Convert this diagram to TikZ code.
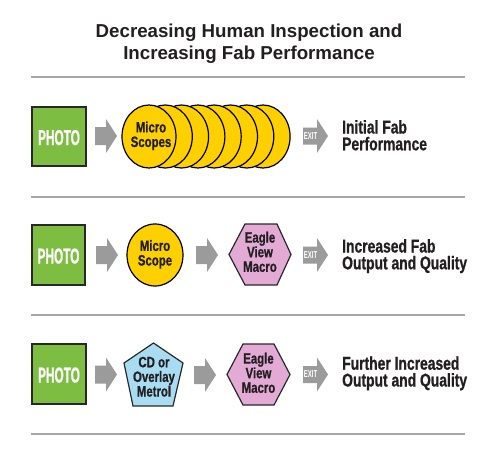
\documentclass[tikz,border=0pt]{standalone}
\usepackage{fontspec}
\newfontfamily\titlefont{Liberation Sans Bold}
\newfontfamily\lblfont[FakeStretch=0.75,FakeBold=0.8]{Liberation Sans Bold}
\newfontfamily\shapefont[FakeStretch=0.76,FakeBold=0.8]{Liberation Sans Bold}
\newfontfamily\photofont[FakeStretch=0.55,FakeBold=0.8]{Liberation Sans Bold}
\newfontfamily\exitfont[FakeStretch=0.6]{Liberation Sans Bold}
\definecolor{photogreen}{RGB}{125,190,66}
\definecolor{scopeyellow}{RGB}{255,208,0}
\definecolor{macropink}{RGB}{228,170,214}
\definecolor{metroblue}{RGB}{168,220,243}
\definecolor{arrowgray}{RGB}{155,155,155}
\definecolor{rulegray}{RGB}{166,166,166}
\definecolor{ink}{RGB}{35,31,32}
\definecolor{edge}{RGB}{40,40,40}
\tikzset{
  titletext/.style={anchor=base,inner sep=0pt,text=ink,align=center,font=\titlefont\fontsize{18.7}{21.9}\selectfont},
  resulttext/.style={anchor=base west,inner sep=0pt,text=ink,align=left,font=\lblfont\fontsize{18.5}{16.8}\selectfont},
  shapetext/.style={anchor=base,inner sep=0pt,text=ink,align=center,font=\shapefont\fontsize{15}{14.6}\selectfont},
  phototext/.style={anchor=base,inner sep=0pt,text=white,font=\photofont\fontsize{21.5}{20}\selectfont},
  exittext/.style={inner sep=0pt,text=white,font=\exitfont\fontsize{10}{10}\selectfont},
  photobox/.style={fill=photogreen,draw=edge,line width=1.3pt},
  scopeshape/.style={fill=scopeyellow,draw=black,line width=1.2pt},
  macroshape/.style={fill=macropink,draw=edge,line width=1.2pt},
  metroshape/.style={fill=metroblue,draw=edge,line width=1.2pt},
  rule/.style={draw=rulegray,line width=1.8pt},
}
\newcommand\blockarrow[3]{%
  \fill[arrowgray] (#1,#2-9) -- (#1+11,#2-9) -- (#1+11,#2-17) -- (#1+22,#2)
    -- (#1+11,#2+17) -- (#1+11,#2+9) -- (#1,#2+9) -- cycle;
  \coordinate (#3) at (#1+11,#2);}
\newcommand\exitarrow[3]{%
  \fill[arrowgray] (#1,#2-8.5) -- (#1+14,#2-8.5) -- (#1+14,#2-17) -- (#1+25,#2)
    -- (#1+14,#2+17) -- (#1+14,#2+8.5) -- (#1,#2+8.5) -- cycle;
  \node[exittext] (#3) at (#1+7.6,#2) {EXIT};}
\newcommand\photo[5]{%
  \fill[photobox] (#1,#2) rectangle (#3,#4);
  \node[phototext] (#5) at ({(#1+#3)/2},{(#2+#4)/2+8.5}) {PHOTO};}
\begin{document}
\begin{tikzpicture}[x=1pt,y=-1pt]
\useasboundingbox (0,0) rectangle (483,463);
\fill[white] (0,0) rectangle (483,463);
% title (anchor = baseline of last line)
\node[titletext] (title) at (249,59.2) {Decreasing Human Inspection and\\Increasing Fab Performance};
% rules
\draw[rule] (31,77) -- (465,77);
\draw[rule] (31,197) -- (465,197);
\draw[rule] (31,315) -- (465,315);
\draw[rule] (31,434) -- (465,434);
% ---------- row 1
\photo{32}{107}{86}{166}{p1}
\blockarrow{95}{136}{a1}
\foreach \k in {7,6,...,0}
  \draw[scopeshape] ({149+16.3*\k},136.5) ellipse [x radius=27pt, y radius=31.5pt];
\node[shapetext] (s1) at (151,147) {Micro\\Scopes};
\exitarrow{303}{136}{e1}
\node[resulttext] (r1) at (342,150.3) {Initial Fab\\Performance};
% ---------- row 2
\photo{32}{225}{85}{285}{p2}
\blockarrow{96}{255}{a2}
\draw[scopeshape] (155,255) ellipse [x radius=28pt, y radius=31pt];
\node[shapetext] (s2) at (155,265.5) {Micro\\Scope};
\blockarrow{196}{255}{a3}
\draw[macroshape] (229,254.5) -- (245,224) -- (277,224) -- (291,254.5) -- (277,285) -- (245,285) -- cycle;
\node[shapetext] (h2) at (260,271.8) {Eagle\\View\\Macro};
\exitarrow{303}{255}{e2}
\node[resulttext] (r2) at (342,269.3) {Increased Fab\\Output and Quality};
% ---------- row 3
\photo{32}{344}{86}{404}{p3}
\blockarrow{95}{374.5}{a4}
\draw[metroshape] (153.5,343) -- (183,363) -- (173,406) -- (133,406) -- (124,363) -- cycle;
\node[shapetext] (m3) at (154,396.5) {CD or\\Overlay\\Metrol};
\blockarrow{194}{375}{a5}
\draw[macroshape] (227,374.5) -- (243,344) -- (274,344) -- (290,374.5) -- (274,405) -- (243,405) -- cycle;
\node[shapetext] (h3) at (258.5,392.8) {Eagle\\View\\Macro};
\exitarrow{303}{374.5}{e3}
\node[resulttext] (r3) at (342,386.5) {Further Increased\\Output and Quality};
\end{tikzpicture}
\end{document}
